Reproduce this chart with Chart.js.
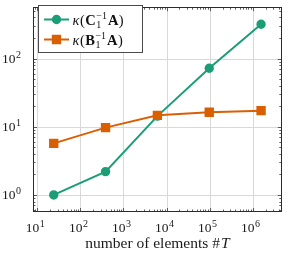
<!DOCTYPE html>
<html>
<head>
<meta charset="utf-8">
<script src="https://cdn.jsdelivr.net/npm/chart.js@4/dist/chart.umd.min.js"></script>
<style>
  html, body { margin: 0; padding: 0; background: #fff; }
  #wrap { width: 289px; height: 258px; }
</style>
</head>
<body>
<div id="wrap"><canvas id="kappa-chart"></canvas></div>
<script>
// data (mesh refined by factor 16 each step)
const numElements = [24, 384, 6144, 98304, 1572864];
const kappaC = [1.0, 2.2, 14.3, 72, 318];   // kappa(C1^-1 A)
const kappaB = [5.7, 9.7, 14.7, 16.3, 17.2]; // kappa(B1^-1 A)
const xDecades = [1, 2, 3, 4, 5, 6];
const yDecades = [0, 1, 2];
const xTitle = 'number of elements #';

const green = '#1b9e77';
const orange = '#d95f02';
const serif = '"Liberation Serif", "DejaVu Serif", serif';

// pgfplots style limits: data range enlarged by 10% in log space
function logLimits(vals) {
  const lo = Math.log10(Math.min(...vals)), hi = Math.log10(Math.max(...vals));
  const pad = (hi - lo) * 0.1;
  return [Math.pow(10, lo - pad), Math.pow(10, hi + pad)];
}
const [xMin, xMax] = logLimits(numElements);
const [yMin, yMax] = logLimits(kappaC.concat(kappaB));

function logTicks(min, max) {
  const out = [];
  for (let e = Math.floor(Math.log10(min)); e <= Math.ceil(Math.log10(max)); e++) {
    for (let m = 1; m <= 9; m++) {
      const v = m * Math.pow(10, e);
      if (v >= min && v <= max) out.push({ value: v });
    }
  }
  return out;
}
const isDecade = v => Math.abs(Math.log10(v) - Math.round(Math.log10(v))) < 1e-9;

function toPoints(ys) {
  return numElements.map((x, i) => ({ x: x, y: ys[i] }));
}

// draws "10^e" with a raised exponent
function drawPower(ctx, e, x, y, align) {
  ctx.font = '13.5px ' + serif;
  const wb = ctx.measureText('10').width;
  ctx.font = '10px ' + serif;
  const we = ctx.measureText(String(e)).width;
  const w = wb + we + 0.5;
  let left = x;
  if (align === 'center') left = x - w / 2;
  if (align === 'right') left = x - w;
  ctx.textAlign = 'left';
  ctx.textBaseline = 'alphabetic';
  ctx.font = '13.5px ' + serif;
  ctx.fillText('10', left, y);
  ctx.font = '10px ' + serif;
  ctx.fillText(String(e), left + wb + 0.5, y - 5.5);
}

// kappa(X_1^-1 A) with bold matrices
function drawKappa(ctx, letter, x, y) {
  let cx = x;
  const put = (t, font, dy) => {
    ctx.font = font;
    ctx.fillText(t, cx, y + (dy || 0));
    return ctx.measureText(t).width;
  };
  ctx.textAlign = 'left';
  ctx.textBaseline = 'alphabetic';
  cx += put('κ', 'italic 14.5px ' + serif) + 0.5;
  cx += put('(', '14.5px ' + serif) + 0.5;
  cx += put(letter, 'bold 14.5px ' + serif) + 0.5;
  ctx.font = '10px ' + serif;
  const wsup = ctx.measureText('−1').width;
  ctx.fillText('−1', cx, y - 6);
  ctx.fillText('1', cx, y + 3.5);
  cx += wsup + 1;
  cx += put('A', 'bold 14.5px ' + serif) + 0.5;
  put(')', '14.5px ' + serif);
}

const pgfLook = {
  id: 'pgfLook',
  beforeDatasetsDraw(chart) {
    // major grid lines at the decades only
    const ctx = chart.ctx;
    const a = chart.chartArea;
    const xs = chart.scales.x, ys = chart.scales.y;
    ctx.save();
    ctx.strokeStyle = '#d9d9d9';
    ctx.lineWidth = 1;
    ctx.beginPath();
    xs.ticks.filter(t => isDecade(t.value)).forEach(t => {
      const px = Math.round(xs.getPixelForValue(t.value)) + 0.5;
      ctx.moveTo(px, a.top); ctx.lineTo(px, a.bottom);
    });
    ys.ticks.filter(t => isDecade(t.value)).forEach(t => {
      const py = Math.round(ys.getPixelForValue(t.value)) + 0.5;
      ctx.moveTo(a.left, py); ctx.lineTo(a.right, py);
    });
    ctx.stroke();
    ctx.restore();
  },
  afterDraw(chart) {
    const ctx = chart.ctx;
    const a = chart.chartArea;
    const xs = chart.scales.x, ys = chart.scales.y;
    ctx.save();
    // inward tick marks on all four sides
    ctx.strokeStyle = '#3a3a3a';
    ctx.lineWidth = 0.8;
    ctx.beginPath();
    xs.ticks.forEach(t => {
      const px = Math.round(xs.getPixelForValue(t.value)) + 0.5;
      const len = isDecade(t.value) ? 4 : 2.5;
      ctx.moveTo(px, a.bottom); ctx.lineTo(px, a.bottom - len);
      ctx.moveTo(px, a.top); ctx.lineTo(px, a.top + len);
    });
    ys.ticks.forEach(t => {
      const py = Math.round(ys.getPixelForValue(t.value)) + 0.5;
      const len = isDecade(t.value) ? 4 : 2.5;
      ctx.moveTo(a.left, py); ctx.lineTo(a.left + len, py);
      ctx.moveTo(a.right, py); ctx.lineTo(a.right - len, py);
    });
    ctx.stroke();
    // frame
    ctx.strokeStyle = '#2b2b2b';
    ctx.lineWidth = 1;
    ctx.strokeRect(Math.round(a.left) + 0.5, Math.round(a.top) + 0.5,
      Math.round(a.right - a.left) - 1, Math.round(a.bottom - a.top) - 1);

    // tick labels
    ctx.fillStyle = '#1a1a1a';
    xDecades.forEach(e => {
      const px = xs.getPixelForValue(Math.pow(10, e));
      drawPower(ctx, e, px - 2, a.bottom + 20, 'center');
    });
    yDecades.forEach(e => {
      const py = ys.getPixelForValue(Math.pow(10, e));
      drawPower(ctx, e, a.left - 12, py + 4.5, 'right');
    });

    // axis title
    const fs = '15.5px ' + serif;
    ctx.font = fs;
    const w1 = ctx.measureText(xTitle).width;
    ctx.font = 'italic ' + fs;
    const w2 = ctx.measureText('T').width;
    const tx = (a.left + a.right) / 2 - (w1 + w2 + 1) / 2;
    ctx.textAlign = 'left';
    ctx.font = fs;
    ctx.fillText(xTitle, tx, 248);
    ctx.font = 'italic ' + fs;
    ctx.fillText('T', tx + w1 + 1, 248);

    // legend
    const lx = 38.5, ly = 5.5, lw = 104, lh = 47;
    ctx.fillStyle = '#fff';
    ctx.fillRect(lx, ly, lw, lh);
    ctx.strokeStyle = '#4a4a4a';
    ctx.lineWidth = 1;
    ctx.strokeRect(lx, ly, lw, lh);
    chart.data.datasets.slice().sort((p, q) => p.legendRank - q.legendRank).forEach((ds, i) => {
      const cy = 19.5 + i * 20;
      ctx.strokeStyle = ds.borderColor;
      ctx.lineWidth = 2;
      ctx.beginPath();
      ctx.moveTo(44, cy); ctx.lineTo(69, cy);
      ctx.stroke();
      Chart.helpers.drawPoint(ctx, {
        pointStyle: ds.pointStyle, radius: ds.pointRadius, borderWidth: 1
      }, 56.5, cy);
      ctx.fillStyle = ds.borderColor;
      ctx.fill();
      ctx.fillStyle = '#111';
      drawKappa(ctx, ds.matrix, 72.5, cy + 5);
    });
    ctx.restore();
  }
};

new Chart(document.getElementById('kappa-chart'), {
  type: 'line',
  data: {
    datasets: [
      {
        label: 'kappa(C1^-1 A)', matrix: 'C', legendRank: 0,
        data: toPoints(kappaC),
        borderColor: green, backgroundColor: green,
        pointBackgroundColor: green, pointBorderColor: green,
        borderWidth: 2, pointStyle: 'circle', pointRadius: 3.7,
        order: 1
      },
      {
        label: 'kappa(B1^-1 A)', matrix: 'B', legendRank: 1,
        data: toPoints(kappaB),
        borderColor: orange, backgroundColor: orange,
        pointBackgroundColor: orange, pointBorderColor: orange,
        borderWidth: 2, pointStyle: 'rect', pointRadius: 5.2,
        order: 0
      }
    ]
  },
  options: {
    responsive: true,
    maintainAspectRatio: false,
    animation: false,
    layout: { padding: { top: 1, right: 2, left: 0, bottom: 0 } },
    plugins: { legend: { display: false }, tooltip: { enabled: false } },
    scales: {
      x: {
        type: 'logarithmic', min: xMin, max: xMax,
        afterBuildTicks: s => { s.ticks = logTicks(xMin, xMax); },
        afterFit: s => { s.height = 46; },
        ticks: { display: false },
        grid: { display: false },
        border: { display: false }
      },
      y: {
        type: 'logarithmic', min: yMin, max: yMax,
        afterBuildTicks: s => { s.ticks = logTicks(yMin, yMax); },
        afterFit: s => { s.width = 33; },
        ticks: { display: false },
        grid: { display: false },
        border: { display: false }
      }
    }
  },
  plugins: [pgfLook]
});
</script>
</body>
</html>
